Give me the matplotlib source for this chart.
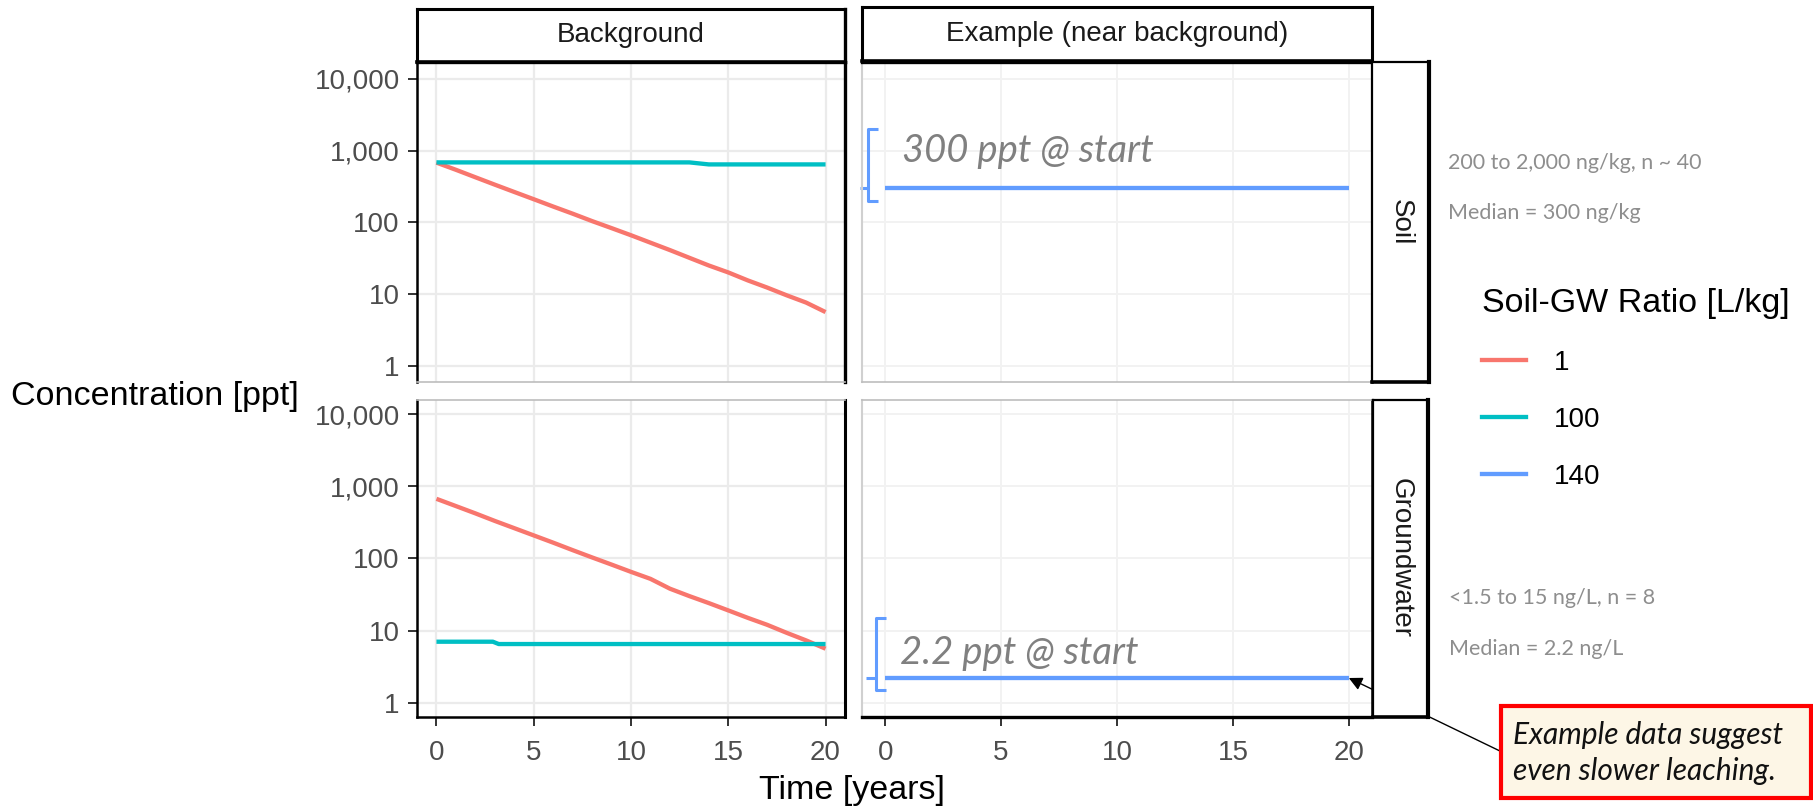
import matplotlib
matplotlib.use("Agg")
import matplotlib.pyplot as plt
from matplotlib.lines import Line2D
from matplotlib.patches import Rectangle

# ---------------- data ----------------
years = list(range(21))
soil_bg_ratio1 = [680, 540, 425, 335, 265, 210, 166, 132, 104, 83, 66,
                  52, 41, 32, 25, 20, 15.5, 12.3, 9.6, 7.6, 5.6]
soil_bg_ratio100_t = [0, 13, 14, 20]
soil_bg_ratio100 = [685, 685, 642, 642]
gw_bg_ratio1 = [668, 530, 420, 330, 262, 208, 165, 130, 103, 82, 65,
                52, 38, 30, 24, 19, 15, 12, 9.3, 7.3, 5.6]
gw_bg_ratio100_t = [0, 2.9, 3.2, 20]
gw_bg_ratio100 = [7.0, 7.0, 6.5, 6.5]
example_t = [0, 20]
soil_ex_ratio140 = [300, 300]
gw_ex_ratio140 = [2.2, 2.2]
soil_range = [200, 2000]
soil_median = 300
gw_range = [1.5, 15]
gw_median = 2.2

series_labels = ["1", "100", "140"]
series_colors = ["#F8766D", "#00BFC4", "#619CFF"]
yticks = [1, 10, 100, 1000, 10000]
ytick_labels = ["1", "10", "100", "1,000", "10,000"]
xticks = [0, 5, 10, 15, 20]
col_titles = ["Background", "Example (near background)"]
row_titles = ["Soil", "Groundwater"]

# ---------------- layout helpers ----------------
W, H = 1813, 809
fig = plt.figure(figsize=(W / 100, H / 100), dpi=100)
ARIAL = "Liberation Sans"
CALIBRI = "Lato"


def rect(x0, y0, x1, y1):
    return [x0 / W, 1 - y1 / H, (x1 - x0) / W, (y1 - y0) / H]


def fx(x):
    return x / W


def fy(y):
    return 1 - y / H


ax_tl = fig.add_axes(rect(417, 61.7, 845, 382))
ax_bl = fig.add_axes(rect(417, 400, 845, 717))
ax_tr = fig.add_axes(rect(862, 61.7, 1372, 382))
ax_br = fig.add_axes(rect(862, 400, 1372, 717))

for ax, (lo, hi) in [(ax_tl, (-0.227, 4.24)), (ax_tr, (-0.227, 4.24)),
                     (ax_bl, (-0.198, 4.194)), (ax_br, (-0.198, 4.194))]:
    ax.set_yscale("log")
    ax.set_ylim(10 ** lo, 10 ** hi)
    ax.set_xlim(-1, 21)
    ax.set_yticks(yticks)
    ax.minorticks_off()
    ax.set_xticks(xticks)
    ax.set_facecolor("white")
    ax.set_axisbelow(True)

for ax in (ax_tl, ax_bl):
    ax.grid(True, color="#EBEBEB", lw=1.6)
for ax in (ax_tr, ax_br):
    ax.grid(True, color="#F2F2F2", lw=1.4)

# tick styling
for ax in (ax_tl, ax_bl):
    ax.set_yticklabels(ytick_labels, fontsize=20, color="#4D4D4D", family=ARIAL)
    ax.tick_params(axis="y", length=6.5, width=1.4, color="#333333", pad=6)
for ax in (ax_tr, ax_br):
    ax.tick_params(axis="y", left=False, labelleft=False)
for ax in (ax_tl, ax_tr):
    ax.tick_params(axis="x", bottom=False, labelbottom=False)
for ax in (ax_bl, ax_br):
    ax.set_xticklabels([str(v) for v in xticks], fontsize=20, color="#4D4D4D", family=ARIAL)
    ax.tick_params(axis="x", length=6.5, width=1.4, color="#333333", pad=10)

# spines
GREY = "#BDBDBD"
def spines(ax, left, right, top, bottom):
    for name, spec in (("left", left), ("right", right), ("top", top), ("bottom", bottom)):
        c, w = spec
        ax.spines[name].set_color(c)
        ax.spines[name].set_linewidth(w)

spines(ax_tl, ("black", 1.8), ("black", 2.4), ("black", 2.4), (GREY, 1.2))
spines(ax_bl, ("black", 1.8), ("black", 2.2), (GREY, 1.2), ("black", 1.8))
spines(ax_tr, ("#D0D0D0", 1.5), ("black", 1.8), ("black", 2.4), (GREY, 1.2))
spines(ax_br, ("#D0D0D0", 1.5), ("black", 1.8), (GREY, 1.2), ("black", 2.4))

# ---------------- data lines ----------------
LW = 3.1
ax_tl.plot(years, soil_bg_ratio1, color=series_colors[0], lw=LW, solid_capstyle="butt")
ax_tl.plot(soil_bg_ratio100_t, soil_bg_ratio100, color=series_colors[1], lw=LW, solid_capstyle="butt")
ax_bl.plot(years, gw_bg_ratio1, color=series_colors[0], lw=LW, solid_capstyle="butt")
ax_bl.plot(gw_bg_ratio100_t, gw_bg_ratio100, color=series_colors[1], lw=LW, solid_capstyle="butt")
ax_tr.plot(example_t, soil_ex_ratio140, color=series_colors[2], lw=LW, solid_capstyle="butt")
ax_br.plot(example_t, gw_ex_ratio140, color=series_colors[2], lw=LW, solid_capstyle="butt")


# range brackets
def bracket(ax, xb, serif, mid, lo, hi, med):
    kw = dict(color=series_colors[2], lw=2.2, clip_on=False, solid_capstyle="butt")
    ax.plot([xb + serif, xb, xb, xb + serif], [hi, hi, lo, lo], solid_joinstyle="round", **kw)
    ax.plot([xb, xb - mid], [med, med], **kw)

bracket(ax_tr, -0.76, 0.46, 0.32, soil_range[0], soil_range[1], soil_median)
bracket(ax_br, -0.38, 0.40, 0.45, gw_range[0], gw_range[1], gw_median)

ax_tr.text(0.72, 1000, "300 ppt @ start", fontsize=27.5, style="italic", color="#808080",
           family=CALIBRI, va="center", ha="left")
ax_br.text(0.64, 4.9, "2.2 ppt @ start", fontsize=27.5, style="italic", color="#808080",
           family=CALIBRI, va="center", ha="left")

# ---------------- strips ----------------
def strip(box, text, rot, lws):
    sax = fig.add_axes(rect(*box))
    sax.set_xticks([]); sax.set_yticks([])
    sax.set_facecolor("white")
    for name, w in zip(("left", "right", "top", "bottom"), lws):
        sax.spines[name].set_linewidth(w)
        sax.spines[name].set_color("black")
    sax.text(0.5, 0.5, text, transform=sax.transAxes, rotation=rot, ha="center",
             va="center", fontsize=20, family=ARIAL, color="#1A1A1A")
    return sax

strip((417, 9.3, 845, 61.7), col_titles[0], 0, (2.2, 2.4, 2.2, 2.6))
strip((862, 7.3, 1372, 61), col_titles[1], 0, (2.2, 2.2, 2.2, 2.6))
strip((1372, 61.7, 1429, 382.3), row_titles[0], 270, (1.6, 3.0, 1.6, 2.6))
strip((1373, 400, 1428, 717), row_titles[1], 270, (1.6, 3.0, 1.6, 2.6))

# ---------------- axis titles ----------------
fig.text(fx(11), fy(397), "Concentration [ppt]", fontsize=24.5, family=ARIAL,
         ha="left", va="center", color="black")
fig.text(fx(852), fy(790), "Time [years]", fontsize=24.5, family=ARIAL,
         ha="center", va="center", color="black")

# ---------------- side notes ----------------
NOTE = "#8E8E8E"
fig.text(fx(1448), fy(163), "200 to 2,000 ng/kg, n ~ 40", fontsize=15.5, family=CALIBRI,
         color=NOTE, ha="left", va="center")
fig.text(fx(1448), fy(213), "Median = 300 ng/kg", fontsize=15.5, family=CALIBRI,
         color=NOTE, ha="left", va="center")
fig.text(fx(1449), fy(598), "<1.5 to 15 ng/L, n = 8", fontsize=15.5, family=CALIBRI,
         color=NOTE, ha="left", va="center")
fig.text(fx(1449), fy(649), "Median = 2.2 ng/L", fontsize=15.5, family=CALIBRI,
         color=NOTE, ha="left", va="center")

# ---------------- legend ----------------
handles = [Line2D([], [], color=c, lw=3.1) for c in series_colors]
leg = fig.legend(handles, series_labels, title="Soil-GW Ratio [L/kg]",
                 loc="upper left", bbox_to_anchor=(fx(1482), fy(288)),
                 frameon=False, borderpad=0, borderaxespad=0,
                 handlelength=1.6, handletextpad=1.0, labelspacing=1.12,
                 prop={"family": ARIAL, "size": 20},
                 title_fontproperties={"family": ARIAL, "size": 24.5},
                 alignment="left")
leg._legend_box.sep = 22

# ---------------- call-out box ----------------
box = Rectangle((fx(1501), fy(798)), fx(1811) - fx(1501), fy(706) - fy(798),
                transform=fig.transFigure, facecolor="#FDF6E6", edgecolor="#FF0000",
                lw=3.0, zorder=5)
fig.patches.append(box)
fig.text(fx(1513), fy(735), "Example data suggest", fontsize=21.5, style="italic",
         family=CALIBRI, color="#111111", ha="left", va="center", zorder=6)
fig.text(fx(1513), fy(771), "even slower leaching.", fontsize=21.5, style="italic",
         family=CALIBRI, color="#111111", ha="left", va="center", zorder=6)
ax_br.annotate("", xy=(20, gw_ex_ratio140[1]), xycoords="data",
               xytext=(fx(1502), fy(752)), textcoords="figure fraction",
               arrowprops=dict(arrowstyle="-|>", color="black", lw=1.0,
                               mutation_scale=20, shrinkA=0, shrinkB=0),
               annotation_clip=False)

fig.savefig("out.png", dpi=100)
